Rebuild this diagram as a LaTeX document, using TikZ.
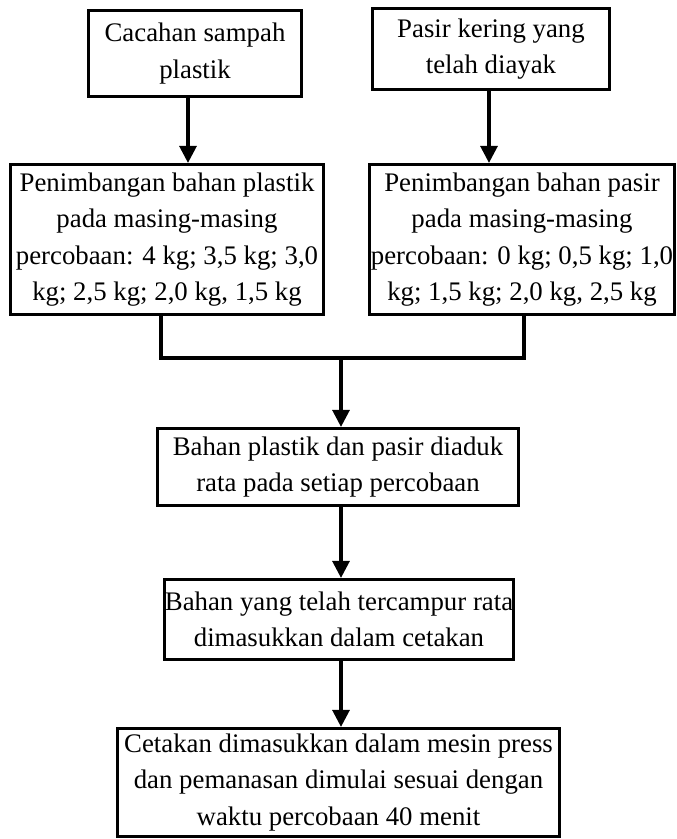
\documentclass[tikz,border=0pt]{standalone}
\usepackage{fontspec}
\setmainfont{Liberation Serif}
\usepackage{tikz}
\usetikzlibrary{arrows.meta}
\tikzset{
      kotak/.style={draw=black, line width=3.2pt, rectangle, inner sep=0pt, align=center,
            font=\fontsize{26.8}{36.5}\selectfont},
      garis/.style={draw=black, line width=3.2pt},
      panah/.style={draw=black, line width=3.2pt, -{Triangle[length=17pt,width=17pt]}},
}
\begin{document}
\begin{tikzpicture}[x=1pt,y=-1pt]

        \useasboundingbox (0,0) rectangle (677,839);

        \node[kotak, minimum width=213, minimum height=86] (cacah) at (195,53.5)
              {Cacahan sampah\\plastik};
        \node[kotak, minimum width=237, minimum height=81] (pasir) at (491,49)
              {Pasir kering yang\\telah diayak};
        \node[kotak, minimum width=313, minimum height=150] (timbangplastik) at (167,239.5)
              {Penimbangan bahan plastik\\pada masing-masing\\percobaan: 4 kg; 3,5 kg; 3,0\\kg; 2,5 kg; 2,0 kg, 1,5 kg};
        \node[kotak, minimum width=305, minimum height=150] (timbangpasir) at (522,239.5)
              {Penimbangan bahan pasir\\pada masing-masing\\percobaan: 0 kg; 0,5 kg; 1,0\\kg; 1,5 kg; 2,0 kg, 2,5 kg};
        \node[kotak, minimum width=361, minimum height=77] (aduk) at (338,467)
              {Bahan plastik dan pasir diaduk\\rata pada setiap percobaan};
        \node[kotak, minimum width=349, minimum height=80] (cetak) at (339,619.5)
              {Bahan yang telah tercampur rata\\dimasukkan dalam cetakan};
        \node[kotak, minimum width=442, minimum height=108] (press) at (338.5,782.5)
              {Cetakan dimasukkan dalam mesin press\\dan pemanasan dimulai sesuai dengan\\waktu percobaan 40 menit};

        \coordinate (gabung) at (341,358);

        \draw[panah] ([xshift=-7pt]cacah.south) -- ([xshift=-7pt]cacah.south |- timbangplastik.north);
        \draw[panah] ([xshift=-2pt]pasir.south) -- ([xshift=-2pt]pasir.south |- timbangpasir.north);

        \draw[garis] ([xshift=-6pt]timbangplastik.south) |- (gabung) -| ([xshift=2pt]timbangpasir.south);

        \draw[panah] (gabung) -- (gabung |- aduk.north);
        \draw[panah] ([xshift=3pt]aduk.south) -- ([xshift=3pt]aduk.south |- cetak.north);
        \draw[panah] ([xshift=2pt]cetak.south) -- ([xshift=2pt]cetak.south |- press.north);

    \end{tikzpicture}
\end{document}
